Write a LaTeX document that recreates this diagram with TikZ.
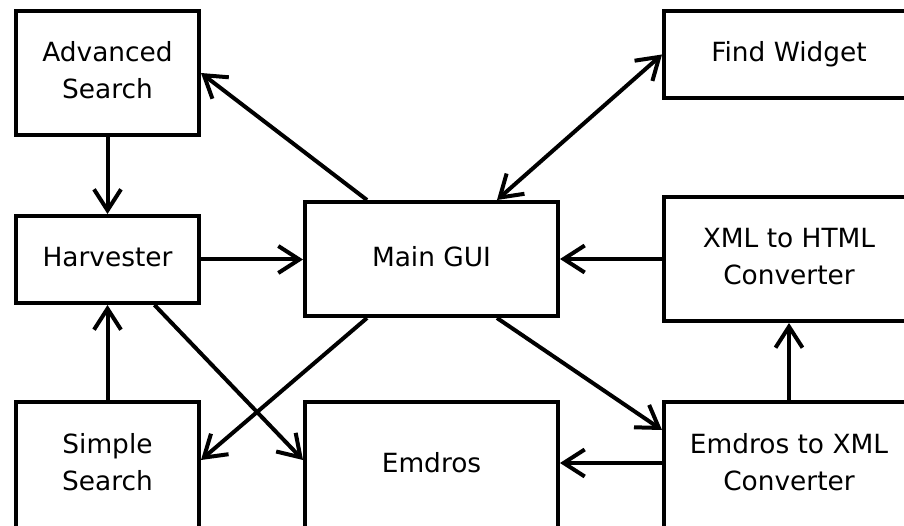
\documentclass[tikz,border=0pt]{standalone}
\usepackage{fontspec}
\setmainfont{DejaVu Sans}
\usetikzlibrary{arrows.meta,calc}
\begin{document}
\begin{tikzpicture}[x=1pt,y=-1pt,
  box/.style={draw,line width=4pt,outer sep=2pt,inner sep=0pt,align=center,
    font=\fontsize{26.4}{37}\selectfont,text depth=6pt},
  tip/.tip={Straight Barb[length=21pt,width=27pt]},
  arr/.style={line width=4pt,-tip},
  darr/.style={line width=4pt,tip-tip}]
\useasboundingbox (0,0) rectangle (904,526);
\clip (0,0) rectangle (904,526);
\node[box,minimum width=183pt,minimum height=124pt] (adv) at (107.5,73) {Advanced\\Search};
\node[box,minimum width=183pt,minimum height=87pt] (harv) at (107.5,259.5) {Harvester};
\node[box,minimum width=183pt,minimum height=126pt] (ss) at (107.5,465) {Simple\\Search};
\node[box,minimum width=253pt,minimum height=114pt] (main) at (431.5,259) {Main GUI};
\node[box,minimum width=253pt,minimum height=126pt] (emd) at (431.5,465) {Emdros};
\node[box,minimum width=250pt,minimum height=87pt] (find) at (789,54.5) {Find Widget};
\node[box,minimum width=250pt,minimum height=124pt] (xml) at (789,259) {XML to HTML\\Converter};
\node[box,minimum width=250pt,minimum height=126pt] (e2x) at (789,465) {Emdros to XML\\Converter};
\draw[arr] ($(main.north)+(-64.5,0)$) -- (adv.east);
\draw[arr] (adv.south) -- (harv.north);
\draw[arr] (harv.east) -- (main.west |- harv.east);
\draw[darr] ($(main.north)+(65.5,0)$) -- (find.west);
\draw[arr] (xml.west) -- (main.east |- xml.west);
\draw[arr] (e2x.north) -- (xml.south);
\draw[arr] ($(e2x.west)+(0,-2)$) -- ($(emd.east)+(0,-2)$);
\draw[arr] ($(main.south)+(65.5,0)$) -- ($(e2x.north west)+(0,30)$);
\draw[arr] ($(main.south)+(-64.5,0)$) -- ($(ss.north east)+(0,60)$);
\draw[arr] ($(harv.south)+(47,0)$) -- ($(emd.north west)+(0,60)$);
\draw[arr] (ss.north) -- (harv.south);
\end{tikzpicture}
\end{document}
